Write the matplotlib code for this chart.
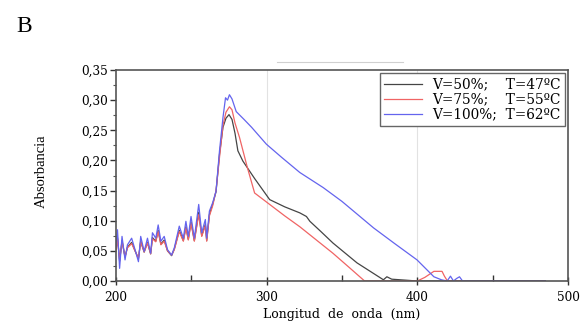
import matplotlib
matplotlib.use('Agg')
import matplotlib.pyplot as plt
from matplotlib.lines import Line2D
from matplotlib.ticker import MultipleLocator, FuncFormatter

# Absorbance spectra
wl_noise = [200, 201, 202.4, 204, 206, 207.6, 210.4, 213, 214.9, 216.4, 218.7, 220.9,
            223, 224.2, 226.4, 228, 229.8, 232, 234.2, 236.9, 238.7, 242, 244.7, 246.4,
            248, 249.8, 252, 254.9, 256.9, 259.3, 260.2, 262]

# V=100%; T=62ºC
wl_100 = wl_noise + [264.2, 266.4, 268.7, 271, 272.7, 274, 275.3, 277, 279.8, 285, 290,
                     299.8, 310, 322, 337.5, 350, 371, 385, 399.8, 411, 416, 419.8, 422,
                     424, 426, 428, 430, 440, 460, 485]
abs_100 = [0.057, 0.085, 0.021, 0.074, 0.035, 0.060, 0.071, 0.049, 0.032, 0.074, 0.049, 0.071,
           0.046, 0.080, 0.071, 0.093, 0.066, 0.074, 0.052, 0.043, 0.055, 0.091, 0.071, 0.099,
           0.074, 0.107, 0.071, 0.127, 0.080, 0.102, 0.071, 0.116,
           0.130, 0.149, 0.216, 0.271, 0.304, 0.300, 0.309, 0.302, 0.281, 0.268, 0.255,
           0.227, 0.205, 0.180, 0.155, 0.132, 0.088, 0.062, 0.035, 0.007, 0.002, 0.0, 0.008,
           0.0, 0.004, 0.007, 0.0, 0.0, 0.0, 0.0]

# V=75%; T=55ºC
wl_75 = wl_noise + [264.2, 266.4, 268.7, 271, 273, 275.3, 277, 279, 282, 287, 292, 302,
                    312, 322, 333, 344, 355, 365, 380, 400, 405, 411, 416.4, 418, 420, 440, 485]
abs_75 = [0.050, 0.070, 0.035, 0.065, 0.040, 0.055, 0.062, 0.048, 0.038, 0.065, 0.048, 0.063,
          0.045, 0.070, 0.065, 0.082, 0.060, 0.066, 0.050, 0.043, 0.052, 0.082, 0.066, 0.088,
          0.068, 0.096, 0.066, 0.110, 0.074, 0.092, 0.066, 0.108,
          0.125, 0.150, 0.205, 0.258, 0.280, 0.289, 0.284, 0.262, 0.238, 0.190, 0.146, 0.127,
          0.108, 0.090, 0.068, 0.046, 0.022, 0.0, 0.0, 0.0, 0.006, 0.016, 0.016, 0.008, 0.0,
          0.0, 0.0]

# V=50%; T=47ºC
wl_50 = wl_noise + [264.2, 266.4, 268.7, 271, 273, 275, 277, 279, 280.9, 284.2, 292, 302,
                    312, 322, 326.4, 328.7, 336, 344, 360, 377.5, 379.8, 383, 400, 440, 485]
abs_50 = [0.052, 0.072, 0.033, 0.067, 0.040, 0.056, 0.064, 0.048, 0.037, 0.066, 0.048, 0.064,
          0.045, 0.072, 0.066, 0.084, 0.061, 0.068, 0.050, 0.042, 0.053, 0.084, 0.067, 0.090,
          0.069, 0.098, 0.067, 0.114, 0.075, 0.094, 0.067, 0.110,
          0.128, 0.148, 0.210, 0.255, 0.270, 0.276, 0.268, 0.245, 0.216, 0.199, 0.170, 0.135,
          0.123, 0.113, 0.107, 0.099, 0.082, 0.063, 0.030, 0.002, 0.007, 0.003, 0.0, 0.0, 0.0]

labels = ['V=50%;    T=47ºC', 'V=75%;    T=55ºC', 'V=100%;  T=62ºC']
colors = ['#454545', '#f06464', '#6464ee']

plt.rcParams['font.family'] = ['DejaVu Serif']

fig = plt.figure(figsize=(5.87, 3.27), dpi=100)
ax = fig.add_axes([0.1976, 0.1407, 0.77, 0.6452])

ax.plot(wl_50, abs_50, color=colors[0], lw=0.9, label=labels[0])
ax.plot(wl_75, abs_75, color=colors[1], lw=0.9, label=labels[1])
ax.plot(wl_100, abs_100, color=colors[2], lw=0.9, label=labels[2])

for xg in [300, 400]:
    ax.axvline(xg, color='#e2e2e2', lw=0.8, zorder=0)

ax.set_xlim(200, 500)
ax.set_ylim(0, 0.35)
ax.xaxis.set_major_locator(MultipleLocator(100))
ax.xaxis.set_minor_locator(MultipleLocator(50))
ax.yaxis.set_major_locator(MultipleLocator(0.05))
ax.yaxis.set_minor_locator(MultipleLocator(0.025))
ax.yaxis.set_major_formatter(FuncFormatter(lambda v, p: f'{v:.2f}'.replace('.', ',')))
ax.tick_params(axis='x', which='major', direction='inout', length=6, width=1, labelsize=8.7, pad=4, colors='#333333', labelcolor='black')
ax.tick_params(axis='x', which='minor', direction='in', length=4, width=1, colors='#333333')
ax.tick_params(axis='y', which='major', direction='out', length=4, width=1, labelsize=8.7, pad=1.5, colors='#333333', labelcolor='black')
ax.tick_params(axis='y', which='minor', direction='out', length=2, width=0.8, colors='#555555')
for s in ax.spines.values():
    s.set_color('#555555')
    s.set_linewidth(1.2)

ax.set_xlabel('Longitud  de  onda  (nm)', fontsize=9, labelpad=3)
ax.set_ylabel('Absorbancia', fontsize=10.5, family='Liberation Serif')
ax.yaxis.set_label_coords(-0.151, 0.52)

leg = ax.legend(loc='upper right', fontsize=9.8, handlelength=2.8, handletextpad=0.7,
                borderpad=0.3, labelspacing=0.08, fancybox=False, framealpha=1,
                borderaxespad=0.25)
leg.get_frame().set_edgecolor('#666666')
leg.get_frame().set_linewidth(1.0)

fig.text(0.041, 0.92, 'B', fontsize=17, ha='center', va='center', family='Liberation Serif')
fig.add_artist(Line2D([277 / 587, 403 / 587], [1 - 62 / 327, 1 - 62 / 327],
                      transform=fig.transFigure, color='#d0d0d0', lw=0.8))

fig.savefig('out.png', dpi=100)
